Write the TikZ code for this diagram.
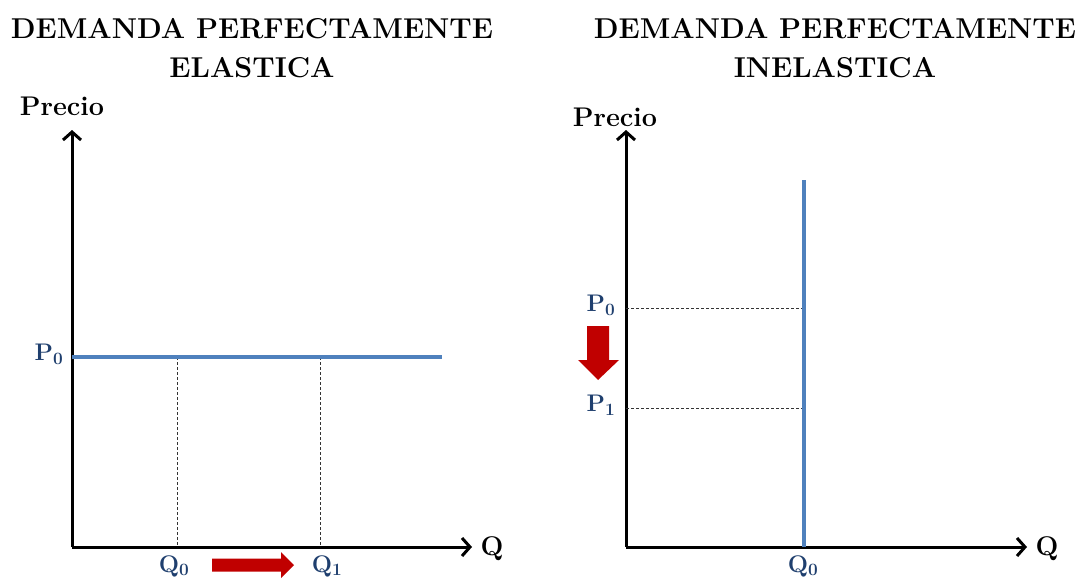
\documentclass[tikz,border=0pt]{standalone}
\usetikzlibrary{arrows.meta}
\definecolor{curveblue}{HTML}{4F81BD}
\definecolor{labelblue}{HTML}{1F3F6E}
\definecolor{arrowred}{HTML}{C00000}
\begin{document}
\begin{tikzpicture}[x=1pt,y=-1pt,
  axis/.style={line width=3pt,-{Straight Barb[length=8pt,width=18pt,line width=3pt]}},
  curve/.style={curveblue,line width=4pt},
  guide/.style={densely dashed,line width=0.7pt,black!80},
  title/.style={font=\fontsize{28.7}{39}\selectfont\bfseries,align=center},
  axlab/.style={font=\fontsize{27}{30}\selectfont\bfseries},
  vlab/.style={font=\fontsize{24}{26}\selectfont\bfseries,text=labelblue},
  redfill/.style={fill=arrowred,draw=none}
]
\useasboundingbox (0,0) rectangle (1081,578);
% left chart
\node[title] (tl) at (252,48) {DEMANDA PERFECTAMENTE\\ELASTICA};
\node[axlab] (prl) at (62,106) {Precio};
\coordinate (ol) at (72,547);
\coordinate (yl) at (72,130);
\coordinate (xl) at (472,547);
\draw[axis] (ol) -- (yl);
\draw[axis] (ol) -- (xl);
\coordinate (p0a) at (72,357);
\coordinate (p0b) at (442,357);
\coordinate (q0t) at (177,357);
\coordinate (q0b) at (177,547);
\coordinate (q1t) at (320,357);
\coordinate (q1b) at (320,547);
\draw[guide] (q0t) -- (q0b);
\draw[guide] (q1t) -- (q1b);
\draw[curve] (p0a) -- (p0b);
\node[vlab] (lp0) at (49,354) {P$_{\mathbf{0}}$};
\node[vlab] (lq0) at (174,566) {Q$_{\mathbf{0}}$};
\node[vlab] (lq1) at (327,566) {Q$_{\mathbf{1}}$};
\node[axlab] (lq) at (492,549) {Q};
\fill[redfill] (212,558.5) -- (281,558.5) -- (281,552) -- (294,565) -- (281,578) -- (281,571.5) -- (212,571.5) -- cycle;
% right chart
\node[title] (tr) at (835,48) {DEMANDA PERFECTAMENTE\\INELASTICA};
\node[axlab] (prr) at (615,117) {Precio};
\coordinate (or) at (626,547);
\coordinate (yr) at (626,130);
\coordinate (xr) at (1027,547);
\draw[axis] (or) -- (yr);
\draw[axis] (or) -- (xr);
\coordinate (dt) at (804,180);
\coordinate (db) at (804,547);
\coordinate (g0a) at (626,308);
\coordinate (g0b) at (804,308);
\coordinate (g1a) at (626,408);
\coordinate (g1b) at (804,408);
\draw[guide] (g0a) -- (g0b);
\draw[guide] (g1a) -- (g1b);
\draw[curve] (dt) -- (db);
\node[vlab] (rp0) at (601,305) {P$_{\mathbf{0}}$};
\node[vlab] (rp1) at (601,405) {P$_{\mathbf{1}}$};
\node[vlab] (rq0) at (803,566) {Q$_{\mathbf{0}}$};
\node[axlab] (rq) at (1047,549) {Q};
\fill[redfill] (587,326) -- (609,326) -- (609,360) -- (619,360) -- (598,380) -- (578,360) -- (587,360) -- cycle;
\end{tikzpicture}
\end{document}
